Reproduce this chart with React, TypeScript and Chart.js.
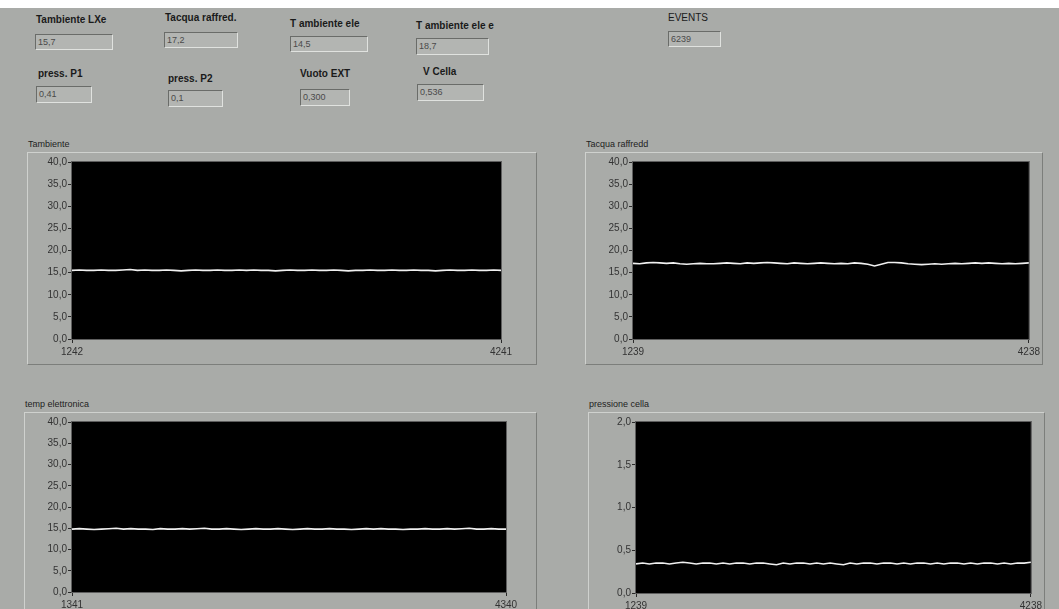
import React, { useEffect, useRef } from "react";
import { Chart, registerables } from "chart.js";
Chart.register(...registerables);

// ---------- data ----------
const tambienteValues = [15.5,15.6,15.5,15.5,15.6,15.5,15.5,15.6,15.7,15.5,15.6,15.5,15.5,15.6,15.5,15.4,15.5,15.6,15.5,15.5,15.6,15.5,15.5,15.6,15.5,15.6,15.5,15.5,15.4,15.5,15.6,15.5,15.5,15.6,15.5,15.5,15.6,15.5,15.4,15.5,15.5,15.6,15.5,15.5,15.6,15.5,15.5,15.6,15.5,15.5,15.4,15.5,15.6,15.5,15.5,15.6,15.5,15.5,15.6,15.5];
const tacquaValues = [17.1,17.0,17.2,17.3,17.2,17.1,17.2,17.0,16.9,17.0,17.1,17.0,17.0,17.1,17.2,17.1,17.0,17.2,17.1,17.2,17.3,17.2,17.1,17.0,17.2,17.1,17.0,17.1,17.2,17.1,17.0,17.1,17.0,17.2,17.1,16.9,16.5,16.9,17.3,17.3,17.2,17.0,16.9,16.8,16.9,17.0,16.9,17.0,17.1,17.0,17.1,17.2,17.1,17.2,17.1,17.0,17.1,17.0,17.1,17.2];
const tempElettronicaValues = [14.8,14.9,14.8,14.7,14.8,14.9,15.0,14.8,14.9,14.8,14.8,14.7,14.9,14.8,14.8,14.9,14.8,14.9,15.0,14.8,14.8,14.9,14.8,14.7,14.8,14.9,14.8,14.8,14.9,14.8,14.7,14.8,14.9,14.8,14.8,14.9,14.8,14.8,14.7,14.8,14.9,14.8,14.9,14.8,14.8,14.7,14.8,14.8,14.9,14.8,14.8,14.9,14.8,14.9,15.0,14.8,14.8,14.9,14.8,14.8];
const pressioneValues = [0.34,0.35,0.34,0.35,0.35,0.34,0.35,0.36,0.35,0.34,0.35,0.35,0.34,0.35,0.34,0.35,0.35,0.34,0.35,0.35,0.34,0.33,0.35,0.34,0.35,0.35,0.34,0.35,0.34,0.35,0.34,0.33,0.35,0.34,0.35,0.35,0.34,0.35,0.35,0.34,0.35,0.34,0.35,0.35,0.34,0.35,0.34,0.35,0.35,0.34,0.35,0.34,0.35,0.35,0.34,0.35,0.34,0.35,0.35,0.36];

const tambienteXRange = [1242, 4241];
const tacquaXRange = [1239, 4238];
const tempElettronicaXRange = [1341, 4340];
const pressioneXRange = [1239, 4238];

const tempYTicks = [0, 40, 5];
const pressYTicks = [0, 2, 0.5];

const indicatorLabels = ["Tambiente LXe", "Tacqua raffred.", "T ambiente ele", "T ambiente ele e", "EVENTS", "press. P1", "press. P2", "Vuoto EXT", "V Cella"];
const indicatorValues = ["15,7", "17,2", "14,5", "18,7", "6239", "0,41", "0,1", "0,300", "0,536"];

// ---------- layout (positions only) ----------
const indicatorPos = [
  { lx: 36, ly: 14, bx: 35, by: 34, bw: 78, bh: 16 },
  { lx: 165, ly: 12, bx: 164, by: 32, bw: 74, bh: 16 },
  { lx: 290, ly: 18, bx: 290, by: 36, bw: 78, bh: 16 },
  { lx: 416, ly: 20, bx: 416, by: 38, bw: 73, bh: 17 },
  { lx: 668, ly: 12, bx: 668, by: 31, bw: 53, bh: 16 },
  { lx: 38, ly: 68, bx: 36, by: 86, bw: 56, bh: 17 },
  { lx: 168, ly: 73, bx: 168, by: 90, bw: 55, bh: 17 },
  { lx: 300, ly: 68, bx: 300, by: 89, bw: 50, bh: 17 },
  { lx: 423, ly: 66, bx: 417, by: 84, bw: 67, bh: 17 },
];

const BG = "#a9aba8";
const FONT = "'Liberation Sans', Arial, sans-serif";

const bgPlugin = {
  id: "plotBg",
  beforeDraw(chart: any) {
    const { ctx, chartArea: a } = chart;
    ctx.save();
    ctx.fillStyle = "#000";
    ctx.fillRect(a.left, a.top, a.right - a.left, a.bottom - a.top);
    ctx.restore();
  },
  afterDraw(chart: any) {
    const { ctx, chartArea: a } = chart;
    ctx.save();
    ctx.strokeStyle = "#5e5e5e";
    ctx.lineWidth = 1;
    ctx.strokeRect(a.left - 0.5, a.top - 0.5, a.right - a.left + 1, a.bottom - a.top + 1);
    ctx.restore();
  },
};

type PanelProps = {
  title: string;
  left: number; top: number; width: number; height: number;
  values: number[];
  xRange: number[];
  yTicks: number[];
  yW: number; padTop: number; padRight: number; xH: number;
};

function ChartPanel(p: PanelProps) {
  const ref = useRef<HTMLCanvasElement>(null);
  useEffect(() => {
    const [xs, xe] = p.xRange;
    const n = p.values.length;
    const data = p.values.map((y, i) => ({ x: xs + (i * (xe - xs)) / (n - 1), y }));
    const tickColor = "#2a2a2a";
    const chart = new Chart(ref.current!, {
      type: "line",
      data: {
        datasets: [{
          data,
          borderColor: "#f0f0f0",
          borderWidth: 1.6,
          pointRadius: 0,
          tension: 0,
        }],
      },
      options: {
        animation: false,
        responsive: false,
        maintainAspectRatio: false,
        layout: { padding: { top: p.padTop, right: p.padRight, left: 0, bottom: 0 } },
        plugins: { legend: { display: false }, tooltip: { enabled: false } },
        scales: {
          x: {
            type: "linear",
            min: xs,
            max: xe,
            afterBuildTicks: (s: any) => { s.ticks = [{ value: xs }, { value: xe }]; },
            afterFit: (s: any) => { s.height = p.xH; },
            ticks: {
              autoSkip: false, maxRotation: 0, padding: 3,
              color: "#333", font: { family: FONT, size: 10 },
              callback: (v: any) => String(v),
            },
            grid: { drawOnChartArea: false, drawTicks: true, tickLength: 4, color: tickColor },
            border: { display: false },
          },
          y: {
            type: "linear",
            min: p.yTicks[0],
            max: p.yTicks[1],
            afterFit: (s: any) => { s.width = p.yW; },
            ticks: {
              stepSize: p.yTicks[2], padding: 1,
              color: "#333", font: { family: FONT, size: 10 },
              callback: (v: any) => Number(v).toFixed(1).replace(".", ","),
            },
            grid: { drawOnChartArea: false, drawTicks: true, tickLength: 4, color: tickColor },
            border: { display: false },
          },
        },
      },
      plugins: [bgPlugin],
    } as any);
    return () => chart.destroy();
  }, []);
  return (
    <>
      <div style={{ position: "absolute", left: p.left + 1, top: p.top - 13, font: `9px ${FONT}`, color: "#222", whiteSpace: "nowrap" }}>{p.title}</div>
      <div style={{
        position: "absolute", left: p.left, top: p.top, width: p.width, height: p.height, boxSizing: "border-box",
        borderTop: "1px solid #cfd1ce", borderLeft: "1px solid #cfd1ce", borderRight: "1px solid #7c7e7b", borderBottom: "1px solid #7c7e7b",
      }} />
      <canvas ref={ref} width={p.width} height={p.height} style={{ position: "absolute", left: p.left, top: p.top, width: p.width, height: p.height }} />
    </>
  );
}

export default function App() {
  return (
    <div style={{ position: "fixed", left: 0, top: 0, width: 1059, height: 609, background: "#fff", overflow: "hidden" }}>
      <div style={{ position: "absolute", left: 0, top: 8, width: 1059, height: 601, background: BG }}>
        {indicatorLabels.map((lab, i) => {
          const q = indicatorPos[i];
          const isEvents = lab === "EVENTS";
          return (
            <React.Fragment key={lab}>
              <div style={{ position: "absolute", left: q.lx, top: q.ly - 8, font: `${isEvents ? "normal" : "bold"} 10px ${FONT}`, color: "#1a1a1a", whiteSpace: "nowrap" }}>{lab}</div>
              <div style={{
                position: "absolute", left: q.bx, top: q.by - 8, width: q.bw, height: q.bh, boxSizing: "border-box",
                background: "#b3b5b2", borderTop: "1px solid #6a6c69", borderLeft: "1px solid #6a6c69",
                borderRight: "1px solid #e0e2df", borderBottom: "1px solid #e0e2df",
                font: `9px ${FONT}`, color: "#4a4a4a", paddingLeft: 2, lineHeight: `${q.bh - 2}px`,
              }}>{indicatorValues[i]}</div>
            </React.Fragment>
          );
        })}
      </div>
      <ChartPanel title="Tambiente" left={27} top={152} width={510} height={213}
        values={tambienteValues} xRange={tambienteXRange} yTicks={tempYTicks}
        yW={45} padTop={10} padRight={36} xH={26} />
      <ChartPanel title="Tacqua raffredd" left={585} top={152} width={458} height={213}
        values={tacquaValues} xRange={tacquaXRange} yTicks={tempYTicks}
        yW={48} padTop={10} padRight={14} xH={26} />
      <ChartPanel title="temp elettronica" left={24} top={412} width={513} height={210}
        values={tempElettronicaValues} xRange={tempElettronicaXRange} yTicks={tempYTicks}
        yW={48} padTop={10} padRight={31} xH={30} />
      <ChartPanel title="pressione cella" left={588} top={412} width={457} height={210}
        values={pressioneValues} xRange={pressioneXRange} yTicks={pressYTicks}
        yW={48} padTop={10} padRight={14} xH={29} />
    </div>
  );
}
